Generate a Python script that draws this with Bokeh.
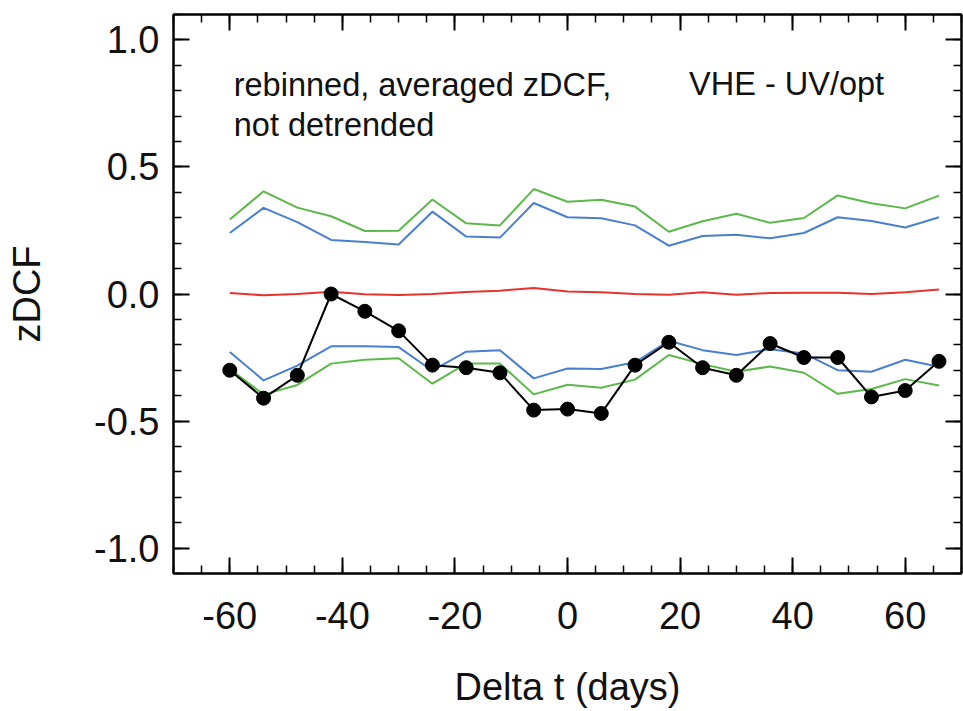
from bokeh.plotting import figure
from bokeh.models import (Range1d, LinearAxis, FixedTicker, PrintfTickFormatter, Label)
from bokeh.embed import file_html
from bokeh.resources import INLINE

# ---- data ----
lags = [-60, -54, -48, -42, -36, -30, -24, -18, -12, -6, 0, 6, 12, 18, 24, 30, 36, 42, 48, 54, 60, 66]
zdcf = [-0.30, -0.41, -0.32, 0.00, -0.068, -0.145, -0.28, -0.29, -0.31, -0.457, -0.453, -0.47,
        -0.28, -0.19, -0.29, -0.32, -0.195, -0.25, -0.25, -0.405, -0.38, -0.265]
mean_line = [0.004, -0.005, 0.0, 0.009, -0.001, -0.004, 0.0, 0.008, 0.013, 0.024, 0.01, 0.007,
             0.0, -0.003, 0.007, -0.003, 0.004, 0.005, 0.005, 0.0, 0.007, 0.018]
green_upper = [0.293, 0.404, 0.34, 0.306, 0.248, 0.249, 0.372, 0.278, 0.27, 0.413, 0.363, 0.371,
               0.344, 0.245, 0.286, 0.316, 0.28, 0.299, 0.388, 0.357, 0.337, 0.387]
blue_upper = [0.24, 0.339, 0.283, 0.213, 0.205, 0.195, 0.324, 0.226, 0.222, 0.358, 0.302, 0.298,
              0.27, 0.19, 0.228, 0.233, 0.219, 0.24, 0.302, 0.287, 0.262, 0.302]
blue_lower = [-0.228, -0.34, -0.282, -0.206, -0.206, -0.209, -0.302, -0.227, -0.221, -0.332, -0.293, -0.295,
              -0.269, -0.184, -0.221, -0.24, -0.217, -0.234, -0.30, -0.306, -0.259, -0.286]
green_lower = [-0.295, -0.396, -0.358, -0.274, -0.259, -0.253, -0.353, -0.274, -0.274, -0.395, -0.357, -0.369,
               -0.337, -0.24, -0.276, -0.306, -0.285, -0.31, -0.393, -0.374, -0.335, -0.36]

x_major = [-60, -40, -20, 0, 20, 40, 60]
x_minor = list(range(-70, 71, 5))
y_major = [-1.0, -0.5, 0.0, 0.5, 1.0]
y_minor = [round(-1.1 + 0.1 * i, 1) for i in range(23)]

FONT = "Liberation Sans"
GREEN = "#5cb84a"
BLUE = "#4a7fcf"
RED = "#e8322e"

p = figure(width=963, height=711, output_backend="svg", toolbar_location=None,
           x_range=Range1d(-70, 70), y_range=Range1d(-1.1, 1.1),
           min_border_left=173, min_border_right=2, min_border_top=14, min_border_bottom=138)
p.grid.visible = False
p.outline_line_color = "black"
p.outline_line_width = 2
p.background_fill_color = "white"
p.border_fill_color = "white"


def style_axis(ax, labels=True):
    ax.axis_line_color = "black"
    ax.axis_line_width = 2
    ax.major_tick_line_color = "black"
    ax.major_tick_line_width = 2
    ax.minor_tick_line_color = "black"
    ax.minor_tick_line_width = 1.5
    ax.major_tick_in = 16
    ax.major_tick_out = 0
    ax.minor_tick_in = 8
    ax.minor_tick_out = 0
    if labels:
        ax.major_label_text_font = FONT
        ax.major_label_text_font_size = "38px"
        ax.major_label_text_color = "#111111"
        ax.axis_label_text_font = FONT
        ax.axis_label_text_font_size = "38px"
        ax.axis_label_text_font_style = "normal"
        ax.axis_label_text_color = "#111111"
    else:
        ax.major_label_standoff = 0


xt = FixedTicker(ticks=x_major, minor_ticks=x_minor)
yt = FixedTicker(ticks=y_major, minor_ticks=y_minor)

xa = p.xaxis[0]
xa.ticker = xt
xa.formatter = PrintfTickFormatter(format="%d")
xa.axis_label = "Delta t (days)"
style_axis(xa)
xa.major_label_standoff = 28
xa.axis_label_standoff = 34

ya = p.yaxis[0]
ya.ticker = yt
ya.formatter = PrintfTickFormatter(format="%.1f")
ya.axis_label = "zDCF"
style_axis(ya)
ya.major_label_standoff = 14
ya.axis_label_standoff = 43

top = LinearAxis(ticker=FixedTicker(ticks=x_major, minor_ticks=x_minor))
style_axis(top, labels=False)
top.major_label_overrides = {t: "" for t in x_major}
p.add_layout(top, "above")
right = LinearAxis(ticker=FixedTicker(ticks=y_major, minor_ticks=y_minor))
style_axis(right, labels=False)
right.major_label_overrides = {t: "" for t in y_major}
p.add_layout(right, "right")

p.line(lags, green_upper, line_color=GREEN, line_width=2)
p.line(lags, blue_upper, line_color=BLUE, line_width=2)
p.line(lags, mean_line, line_color=RED, line_width=2)
p.line(lags, blue_lower, line_color=BLUE, line_width=2)
p.line(lags, green_lower, line_color=GREEN, line_width=2)
p.line(lags, zdcf, line_color="black", line_width=2)
p.scatter(lags, zdcf, size=14, fill_color="black", line_color="black")

for txt, lx, ly in [("rebinned, averaged zDCF,", -59.3, 0.824),
                    ("not detrended", -59.3, 0.667),
                    ("VHE - UV/opt", 21.6, 0.826)]:
    p.add_layout(Label(x=lx, y=ly, text=txt, text_font=FONT, text_font_size="32.5px",
                       text_color="#111111", text_baseline="alphabetic"))

open("out.html", "w").write(file_html(p, INLINE))
